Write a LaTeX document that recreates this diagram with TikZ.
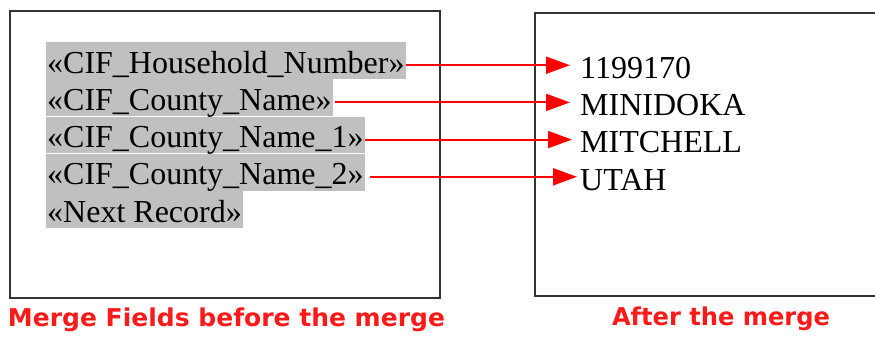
\documentclass[tikz,border=0pt]{standalone}
\usepackage{fontspec}
\setmainfont{Liberation Serif}
\newfontfamily\capfont{DejaVu Sans}
\usetikzlibrary{arrows.meta}
\definecolor{hl}{HTML}{C0C0C0}
\definecolor{frame}{HTML}{333333}
\definecolor{capred}{HTML}{FF1A1A}
\tikzset{
  field/.style={anchor=north west, fill=hl, inner xsep=1pt, inner ysep=0pt,
    text height=31pt, text depth=5.8pt, font=\fontsize{32}{36.8}\selectfont},
  value/.style={anchor=base west, inner sep=0pt, font=\fontsize{32}{36.8}\selectfont},
  framebox/.style={draw=frame, line width=2pt},
  link/.style={draw=red, line width=2pt, -{Triangle[length=24pt,width=17pt]}},
  caption/.style={text=capred, inner sep=0pt, anchor=base,
    font=\capfont\bfseries\fontsize{24.5}{28}\selectfont}
}
\begin{document}
\begin{tikzpicture}[x=1pt,y=-1pt]
\useasboundingbox (0,0) rectangle (875,337);
\clip (0,0) rectangle (875,337);
\draw[framebox] (10,11) rectangle (440,298);
\draw[framebox] (535,13) rectangle (890,296);
\node[field] (l1) at (46,42) {«CIF\_Household\_Number»};
\node[field] (l2) at (l1.south west) {«CIF\_County\_Name»};
\node[field] (l3) at (l2.south west) {«CIF\_County\_Name\_1»};
\node[field] (l4) at (l3.south west) {«CIF\_County\_Name\_2»};
\node[field] (l5) at (l4.south west) {«Next Record»};
\node[value] (r1) at (580,78) {1199170};
\node[value] (r2) at (580,115.3) {MINIDOKA};
\node[value] (r3) at (580,152.6) {MITCHELL};
\node[value] (r4) at (580,190) {UTAH};
\draw[link] ([yshift=8pt]l1.base east) -- ([yshift=8pt,xshift=-10pt]l1.base east -| r1.west);
\draw[link] ([yshift=8pt,xshift=2pt]l2.base east) -- ([yshift=8pt,xshift=-10pt]l2.base east -| r2.west);
\draw[link] ([yshift=8pt]l3.base east) -- ([yshift=8pt,xshift=-8pt]l3.base east -| r3.west);
\draw[link] ([yshift=8pt,xshift=5pt]l4.base east) -- ([yshift=8pt,xshift=-3pt]l4.base east -| r4.west);
\node[caption] (c1) at (226.5,326) {\resizebox{437pt}{\height}{Merge Fields before the merge}};
\node[caption] (c2) at (721,325) {\resizebox{218pt}{\height}{After the merge}};
\end{tikzpicture}
\end{document}
